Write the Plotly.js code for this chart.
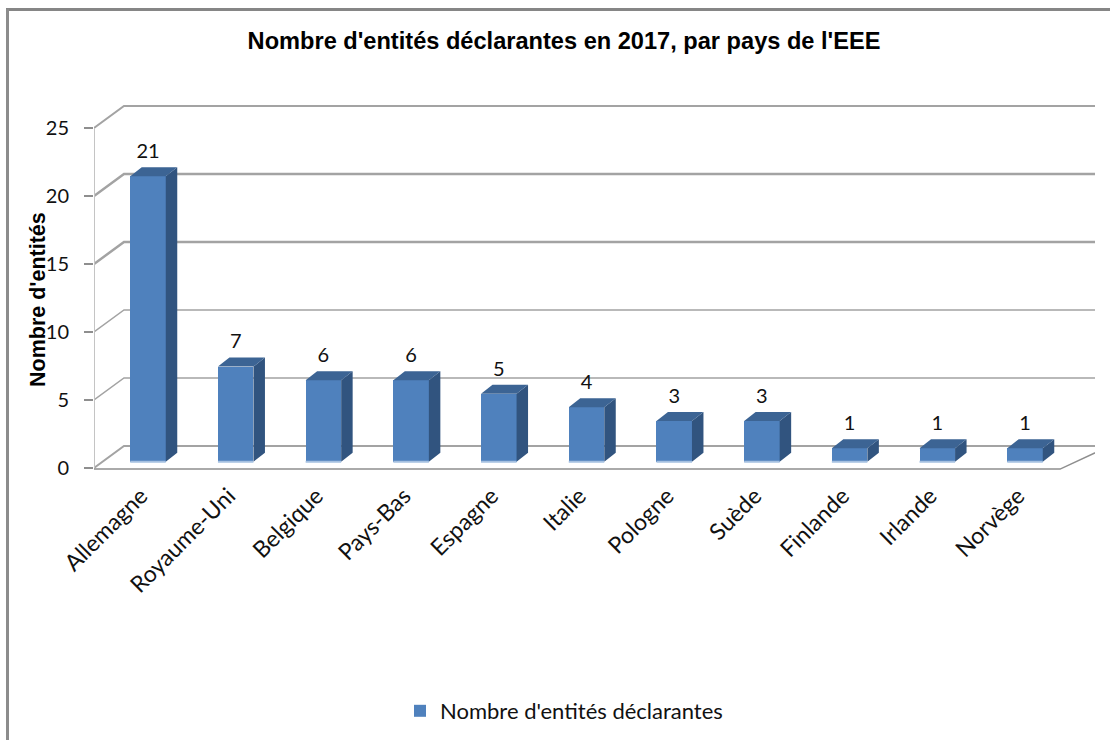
<!DOCTYPE html>
<html><head><meta charset="utf-8">
<script src="https://cdn.plot.ly/plotly-3.0.1.min.js"></script>
<style>html,body{margin:0;padding:0;background:#fff}#c{width:1110px;height:740px}</style></head>
<body><div id="c"></div>
<script>
const categories=["Allemagne","Royaume-Uni","Belgique","Pays-Bas","Espagne","Italie","Pologne","Suède","Finlande","Irlande","Norvège"];
const values=[21,7,6,6,5,4,3,3,1,1,1];
const seriesName="Nombre d'entités déclarantes";
const titleText="Nombre d'entités déclarantes en 2017, par pays de l'EEE";
const yTitleText="Nombre d'entités";
const yTicks=[0,5,10,15,20,25];

const idx=categories.map((_,i)=>i);
// 3D-look parameters, in axis units
const barW=0.405, barBase=0.46, depthX=0.131, depthY=0.66, labelLift=0.3, tickShift=-0.08;
const wallL=-0.6157, wallB=-0.274, wallR=10.97, floorR=10.40, wallDY=1.62;
const gridW=[2,1.5,1.5,2.5,2.5,2];
const gc='#a3a3a3';

const traces=[];
// walls (below)
yTicks.forEach((t,k)=>{
  traces.push({type:'scatter',mode:'lines',x:[wallL,wallB,wallR],y:[t,t+wallDY,t+wallDY],
    line:{color:gc,width:gridW[k]},showlegend:false,hoverinfo:'skip',cliponaxis:false,xaxis:'x',yaxis:'y'});
});
traces.push({type:'scatter',mode:'lines',x:[wallL,wallL],y:[0,25],line:{color:'#c4c4c4',width:2},showlegend:false,hoverinfo:'skip',cliponaxis:false,xaxis:'x',yaxis:'y'});
traces.push({type:'scatter',mode:'lines',x:[wallL,floorR,wallR],y:[-0.08,-0.08,wallDY],line:{color:'#8e8e8e',width:1.5},showlegend:false,hoverinfo:'skip',cliponaxis:false,xaxis:'x',yaxis:'y'});
// bars (overlay axes)
traces.push({type:'bar',name:seriesName,x:idx,y:values,base:barBase,width:barW,marker:{color:'#4f81bd',line:{width:0}},showlegend:true,xaxis:'x2',yaxis:'y2',cliponaxis:false,hoverinfo:'skip'});
const sideX=[],sideY=[],topX=[],topY=[],stripX=[],stripY=[],labelY=[];
idx.forEach(i=>{
  const l=i-barW/2,r=i+barW/2,t=values[i]+barBase,b=barBase;
  sideX.push(r,r+depthX,r+depthX,r,r,null);
  sideY.push(b,b+depthY,t+depthY,t,b,null);
  topX.push(l,l+depthX,r+depthX,r,l,null);
  topY.push(t,t+depthY,t+depthY,t,t,null);
  stripX.push(l,r,null);
  stripY.push(b,b,null);
  labelY.push(t+depthY+labelLift);
});
traces.push({type:'scatter',mode:'lines',x:sideX,y:sideY,fill:'toself',fillcolor:'#31547f',line:{width:0,color:'#31547f'},showlegend:false,hoverinfo:'skip',xaxis:'x2',yaxis:'y2',cliponaxis:false});
traces.push({type:'scatter',mode:'lines',x:topX,y:topY,fill:'toself',fillcolor:'#3c6494',line:{width:0,color:'#3c6494'},showlegend:false,hoverinfo:'skip',xaxis:'x2',yaxis:'y2',cliponaxis:false});
traces.push({type:'scatter',mode:'lines',x:stripX,y:stripY,line:{color:'#a5c0e0',width:2},showlegend:false,hoverinfo:'skip',xaxis:'x2',yaxis:'y2',cliponaxis:false});
traces.push({type:'scatter',mode:'text',x:idx,y:labelY,text:values.map(String),textposition:'top center',textfont:{family:'Lato',size:20,color:'#111'},showlegend:false,hoverinfo:'skip',xaxis:'x2',yaxis:'y2',cliponaxis:false});

const xr=[-0.6157,10.798], yr=[-3.088,27.794];
const L=94,T=90,PW=1001,PH=420;
const px=v=>(v-L)/PW, py=v=>1-(v-T)/PH;
const layout={
  width:1110,height:740,paper_bgcolor:'#fff',plot_bgcolor:'rgba(0,0,0,0)',
  margin:{l:L,r:1110-L-PW,t:T,b:740-T-PH,pad:0,autoexpand:false},
  title:{text:titleText,x:564/1110,xanchor:'center',y:1-41/740,yanchor:'middle',font:{family:'Liberation Sans',size:23.6,color:'#000',weight:700}},
  xaxis:{range:xr,tickmode:'array',tickvals:idx.map(i=>i+tickShift),ticktext:categories,tickangle:-45,ticks:'',
    tickfont:{family:'Lato',size:23,color:'#111'},showgrid:false,zeroline:false,showline:false,automargin:false,anchor:'free',position:py(477)},
  yaxis:{range:yr,tickmode:'array',tickvals:yTicks,ticks:'outside',ticklen:9,tickwidth:2,tickcolor:'#8e8e8e',ticklabelstandoff:11,
    tickfont:{family:'Lato',size:20,color:'#111'},showgrid:false,zeroline:false,showline:false,automargin:false},
  xaxis2:{range:xr,overlaying:'x',visible:false,anchor:'y2'},
  yaxis2:{range:yr,overlaying:'y',visible:false,anchor:'x2'},
  showlegend:true,
  legend:{orientation:'h',x:px(400),xanchor:'left',y:py(711),yanchor:'middle',font:{family:'Lato',size:22,color:'#111'},bgcolor:'rgba(0,0,0,0)',itemclick:false,itemdoubleclick:false},
  annotations:[{text:yTitleText,xref:'paper',yref:'paper',x:px(38),y:py(300),xanchor:'center',yanchor:'middle',textangle:-90,showarrow:false,font:{family:'Liberation Sans',size:21.5,color:'#000',weight:700}}],
  shapes:[
    {type:'line',xref:'paper',yref:'paper',x0:px(6),x1:px(1110),y0:py(9.5),y1:py(9.5),line:{color:'#868686',width:3}},
    {type:'line',xref:'paper',yref:'paper',x0:px(7.5),x1:px(7.5),y0:py(9),y1:py(740),line:{color:'#8c8c8c',width:3}}
  ],
  bargap:0
};
Plotly.newPlot('c',traces,layout,{displayModeBar:false,staticPlot:true});
</script></body></html>
